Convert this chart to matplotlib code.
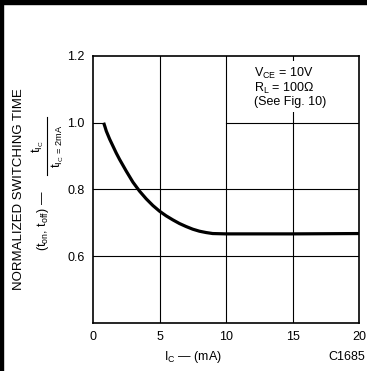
import matplotlib
matplotlib.use("Agg")
import matplotlib.pyplot as plt
from matplotlib.patches import Rectangle
from matplotlib.lines import Line2D

plt.rcParams['font.family'] = ['Liberation Sans', 'DejaVu Sans']
plt.rcParams['mathtext.fontset'] = 'custom'
plt.rcParams['mathtext.rm'] = 'Liberation Sans'
plt.rcParams['mathtext.it'] = 'Liberation Sans'
plt.rcParams['mathtext.bf'] = 'Liberation Sans:bold'

# courbe
ic_ma = [0.8, 0.9, 1.0, 1.25, 1.5, 1.75, 2.0, 2.5, 3.0, 3.5, 4.0, 4.5, 5.0, 5.5, 6.0,
         6.5, 7.0, 7.5, 8.0, 8.5, 9.0, 10.0, 15.0, 20.0]
t_norm = [1.0, 0.988, 0.975, 0.951, 0.93, 0.909, 0.89, 0.855, 0.822, 0.795, 0.772,
          0.752, 0.735, 0.721, 0.709, 0.698, 0.689, 0.681, 0.675, 0.671, 0.668,
          0.667, 0.667, 0.668]

x_ticks = [0, 5, 10, 15, 20]
y_ticks = [0.6, 0.8, 1.0, 1.2]
y_tick_labels = ['0.6', '0.8', '1.0', '1.2']

fig = plt.figure(figsize=(3.67, 3.71), dpi=100)
ax = fig.add_axes([0.2534, 0.1294, 0.725, 0.7197])

ax.set_xlim(0, 20)
ax.set_ylim(0.4, 1.2)
ax.set_xticks(x_ticks)
ax.set_yticks(y_ticks)
ax.set_yticklabels(y_tick_labels)
ax.tick_params(length=0, labelsize=9, pad=6)
for s in ax.spines.values():
    s.set_linewidth(1.2)

# grille
for x in [5, 10, 15]:
    ax.axvline(x, color='black', lw=0.8, zorder=1)
for y in [0.6, 0.8]:
    ax.axhline(y, color='black', lw=0.8, zorder=1)
ax.plot([0, 0.8], [1.0, 1.0], color='black', lw=0.8, zorder=1)
ax.plot([10, 20], [1.0, 1.0], color='black', lw=0.8, zorder=1)

ax.plot(ic_ma, t_norm, color='black', lw=2.3, zorder=3, solid_capstyle='butt')

ax.text(12.1, 1.17,
        "V$_{\\mathrm{CE}}$ = 10V\nR$_{\\mathrm{L}}$ = 100\u03a9\n(See Fig. 10)",
        fontsize=9, va='top', ha='left', linespacing=1.0, zorder=4,
        bbox=dict(facecolor='white', edgecolor='none', pad=3))

# labels
fig.text(0.052, 0.49, "NORMALIZED SWITCHING TIME", rotation=90,
         ha='center', va='center', fontsize=9.5)
fig.text(0.117, 0.405, "(t$_{\\mathrm{on}}$, t$_{\\mathrm{off}}$) \u2014",
         rotation=90, ha='center', va='center', fontsize=9)
fig.text(0.103, 0.604, r"t$_{\mathrm{I_C}}$", rotation=90,
         ha='center', va='center', fontsize=9.5)
fig.text(0.157, 0.606, r"t$_{\mathrm{I_C\,=\,2mA}}$", rotation=90,
         ha='center', va='center', fontsize=9.5)
fig.lines.append(Line2D([0.129, 0.129], [0.528, 0.685], transform=fig.transFigure,
                        color='black', lw=0.8))
fig.text(0.526, 0.038, "I$_{\\mathrm{C}}$ \u2014 (mA)", ha='center', va='center', fontsize=9)
fig.text(0.995, 0.038, "C1685", ha='right', va='center', fontsize=9)

# cadre de la page
fig.patches.append(Rectangle((0, 0), 0.009, 1, transform=fig.transFigure,
                             color='black', zorder=0))
fig.patches.append(Rectangle((0, 0.988), 1, 0.012, transform=fig.transFigure,
                             color='black', zorder=0))

fig.savefig("out.png", dpi=100)
